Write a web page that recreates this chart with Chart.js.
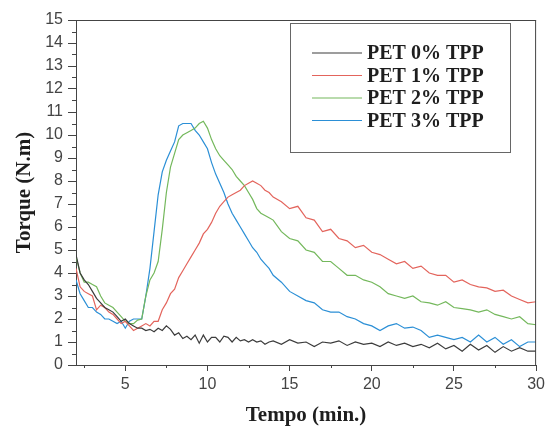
<!DOCTYPE html>
<html>
<head>
<meta charset="utf-8">
<script src="https://cdn.jsdelivr.net/npm/chart.js@4.4.0/dist/chart.umd.min.js"></script>
<style>
  html, body { margin: 0; padding: 0; background: #fff; }
  #wrap { width: 549px; height: 431px; }
</style>
</head>
<body>
<div id="wrap"><canvas id="torqueChart"></canvas></div>
<script>
// tempo (min.)
const tempo = [
  2, 2.25, 2.5, 2.75, 3, 3.25, 3.5, 3.75, 4, 4.25, 4.5, 4.75,
  5, 5.25, 5.5, 5.75, 6, 6.25, 6.5, 6.75, 7, 7.25, 7.5, 7.75,
  8, 8.25, 8.5, 8.75, 9, 9.25, 9.5, 9.75, 10, 10.25, 10.5, 10.75,
  11, 11.25, 11.5, 11.75, 12, 12.25, 12.5, 12.75, 13, 13.25, 13.5, 13.75,
  14, 14.5, 15, 15.5, 16, 16.5, 17, 17.5, 18, 18.5, 19, 19.5,
  20, 20.5, 21, 21.5, 22, 22.5, 23, 23.5, 24, 24.5, 25, 25.5,
  26, 26.5, 27, 27.5, 28, 28.5, 29, 29.5, 30
];

const seriesLabels = ['PET 0% TPP', 'PET 1% TPP', 'PET 2% TPP', 'PET 3% TPP'];
const seriesColors = ['#3c3c3c', '#e3645c', '#74b85c', '#2b8fd6'];

// torque (N.m)
const pet0 = [
  4.8, 4.0, 3.7, 3.5, 3.2, 2.9, 2.7, 2.5, 2.4, 2.3, 2.1, 1.9,
  2.0, 1.8, 1.7, 1.6, 1.6, 1.5, 1.55, 1.45, 1.6, 1.5, 1.7, 1.55,
  1.3, 1.4, 1.15, 1.25, 1.1, 1.3, 0.95, 1.3, 1.0, 1.2, 1.2, 1.0,
  1.25, 1.2, 1.0, 1.2, 1.05, 1.1, 1.0, 1.1, 1.0, 1.05, 0.9, 1.0,
  1.05, 0.9, 1.1, 0.95, 1.0, 0.8, 1.0, 0.95, 1.05, 0.85, 1.0, 0.9,
  0.95, 0.8, 1.0, 0.85, 0.95, 0.8, 0.9, 0.75, 0.95, 0.7, 0.85, 0.6,
  0.9, 0.65, 0.85, 0.55, 0.8, 0.6, 0.75, 0.6, 0.6
];
const pet1 = [
  4.2, 3.4, 3.2, 3.1, 3.0, 2.4, 2.6, 2.5, 2.3, 2.2, 2.0, 1.8,
  1.9, 1.7, 1.5, 1.6, 1.7, 1.8, 1.7, 1.9, 1.9, 2.4, 2.7, 3.1,
  3.3, 3.8, 4.1, 4.4, 4.7, 5.0, 5.3, 5.7, 5.9, 6.2, 6.6, 6.9,
  7.1, 7.3, 7.4, 7.5, 7.6, 7.8, 7.9, 8.0, 7.9, 7.8, 7.6, 7.5,
  7.3, 7.1, 6.8, 6.9, 6.4, 6.3, 5.8, 5.9, 5.5, 5.4, 5.1, 5.2,
  4.9, 4.8, 4.6, 4.4, 4.5, 4.2, 4.3, 4.0, 3.9, 3.9, 3.6, 3.7,
  3.5, 3.4, 3.35, 3.2, 3.25, 3.0, 2.85, 2.7, 2.75
];
const pet2 = [
  4.7, 4.0, 3.6, 3.6, 3.5, 3.4, 3.0, 2.7, 2.6, 2.5, 2.3, 2.1,
  1.9, 1.8, 1.8, 1.95, 2.0, 3.0, 3.7, 4.0, 4.5, 5.9, 7.5, 8.6,
  9.2, 9.8, 10.0, 10.1, 10.2, 10.3, 10.5, 10.6, 10.3, 9.8, 9.4, 9.1,
  8.9, 8.7, 8.5, 8.2, 8.0, 7.8, 7.5, 7.2, 6.8, 6.6, 6.5, 6.4,
  6.3, 5.8, 5.5, 5.4, 5.0, 4.9, 4.5, 4.5, 4.2, 3.9, 3.9, 3.7,
  3.6, 3.4, 3.1, 3.0, 2.9, 3.0, 2.75, 2.7, 2.6, 2.75, 2.5, 2.45,
  2.4, 2.3, 2.4, 2.2, 2.1, 2.0, 2.1, 1.8, 1.75
];
const pet3 = [
  3.7, 3.1, 2.8, 2.5, 2.5, 2.3, 2.2, 2.0, 2.0, 1.9, 1.8, 1.9,
  1.6, 1.9, 2.0, 2.0, 2.0, 3.0, 4.2, 5.8, 7.4, 8.4, 8.9, 9.3,
  9.7, 10.4, 10.5, 10.5, 10.5, 10.2, 10.0, 9.7, 9.4, 8.8, 8.3, 7.9,
  7.5, 7.0, 6.6, 6.3, 6.0, 5.7, 5.4, 5.1, 4.9, 4.6, 4.4, 4.2,
  3.9, 3.6, 3.2, 3.0, 2.8, 2.7, 2.4, 2.3, 2.3, 2.1, 2.0, 1.8,
  1.7, 1.5, 1.7, 1.8, 1.6, 1.65, 1.5, 1.2, 1.3, 1.2, 1.1, 1.2,
  1.0, 1.3, 1.0, 1.2, 0.9, 1.1, 0.8, 1.0, 1.0
];

// axis ticks
const xTicks = [5, 10, 15, 20, 25, 30];
const xMinor = [2.5, 7.5, 12.5, 17.5, 22.5, 27.5];
const yTicks = [0, 1, 2, 3, 4, 5, 6, 7, 8, 9, 10, 11, 12, 13, 14, 15];
const yMinor = yTicks.slice(0, -1).map(v => v + 0.5);

const allSeries = [pet0, pet1, pet2, pet3];

const datasets = allSeries.map((s, i) => ({
  label: seriesLabels[i],
  data: tempo.map((t, j) => ({ x: t, y: s[j] })),
  borderColor: seriesColors[i],
  backgroundColor: seriesColors[i],
  borderWidth: 1.2,
  pointRadius: 0,
  tension: 0,
  fill: false
}));

const axisColor = '#444';

// frame, minor ticks and the boxed legend
const frameLegend = {
  id: 'frameLegend',
  afterDraw(chart) {
    const { ctx, chartArea: { left, right, top, bottom }, scales: { x, y } } = chart;
    ctx.save();
    ctx.strokeStyle = axisColor;
    ctx.lineWidth = 1;
    ctx.beginPath();
    ctx.moveTo(left, top + 0.5);
    ctx.lineTo(right, top + 0.5);
    ctx.moveTo(right - 0.5, top);
    ctx.lineTo(right - 0.5, bottom);
    xMinor.forEach(v => {
      const px = Math.round(x.getPixelForValue(v)) + 0.5;
      ctx.moveTo(px, bottom);
      ctx.lineTo(px, bottom + 3);
    });
    yMinor.forEach(v => {
      const py = Math.round(y.getPixelForValue(v)) + 0.5;
      ctx.moveTo(left, py);
      ctx.lineTo(left - 4, py);
    });
    ctx.stroke();

    // legend
    const bx = 290.5, by = 23.5, bw = 220, bh = 129;
    ctx.strokeStyle = '#666';
    ctx.strokeRect(bx, by, bw, bh);
    ctx.font = 'bold 20px "Liberation Serif", "Times New Roman", serif';
    ctx.textAlign = 'left';
    ctx.textBaseline = 'middle';
    chart.data.datasets.forEach((ds, i) => {
      const ly = 53 + i * 22.5;
      ctx.strokeStyle = ds.borderColor;
      ctx.lineWidth = 1.2;
      ctx.beginPath();
      ctx.moveTo(312, ly);
      ctx.lineTo(362, ly);
      ctx.stroke();
      ctx.fillStyle = '#1e1e1e';
      ctx.fillText(ds.label, 367, ly + 1);
    });
    ctx.restore();
  }
};

new Chart(document.getElementById('torqueChart').getContext('2d'), {
  type: 'line',
  data: { datasets: datasets },
  options: {
    responsive: true,
    maintainAspectRatio: false,
    animation: false,
    layout: { padding: { top: 20, right: 12, left: 0, bottom: 0 } },
    plugins: {
      legend: { display: false },
      tooltip: { enabled: false }
    },
    scales: {
      x: {
        type: 'linear',
        min: 2,
        max: 30,
        afterBuildTicks: scale => { scale.ticks = xTicks.map(v => ({ value: v })); },
        afterFit: scale => { scale.height = 66; },
        ticks: {
          color: '#444',
          font: { family: '"Liberation Sans", Arial, sans-serif', size: 16 },
          padding: 4,
          maxRotation: 0
        },
        grid: { drawOnChartArea: false, drawTicks: true, tickLength: 6, tickColor: axisColor },
        border: { display: true, color: axisColor, width: 1 },
        title: {
          display: true,
          text: 'Tempo (min.)',
          color: '#1e1e1e',
          font: { family: '"Liberation Serif", "Times New Roman", serif', size: 21, weight: 'bold' },
          padding: { top: 0, bottom: 3 }
        }
      },
      y: {
        min: 0,
        max: 15,
        afterBuildTicks: scale => { scale.ticks = yTicks.map(v => ({ value: v })); },
        afterFit: scale => { scale.width = 76; },
        ticks: {
          color: '#444',
          font: { family: '"Liberation Sans", Arial, sans-serif', size: 16 },
          padding: 5
        },
        grid: { drawOnChartArea: false, drawTicks: true, tickLength: 8, tickColor: axisColor },
        border: { display: true, color: axisColor, width: 1 },
        title: {
          display: true,
          text: 'Torque (N.m)',
          color: '#1e1e1e',
          font: { family: '"Liberation Serif", "Times New Roman", serif', size: 21, weight: 'bold' },
          padding: { top: 12, bottom: 0 }
        }
      }
    }
  },
  plugins: [frameLegend]
});
</script>
</body>
</html>
